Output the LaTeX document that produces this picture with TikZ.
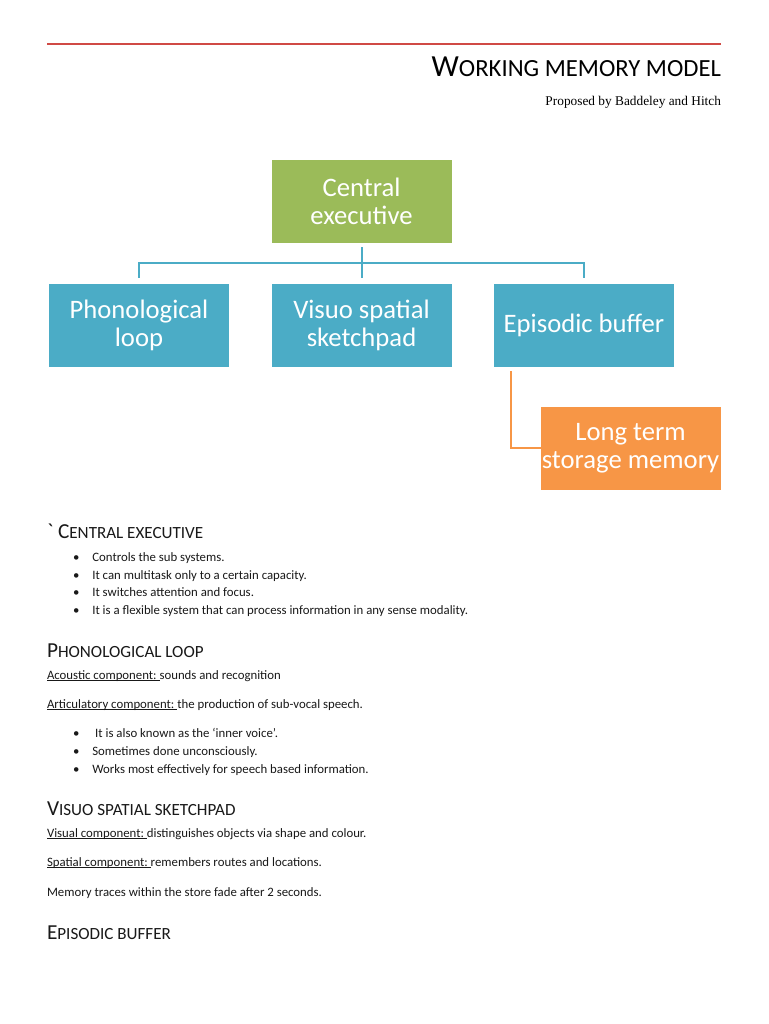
\documentclass[tikz,border=0pt]{standalone}
\usepackage{fontspec}
\setmainfont{Carlito}
\newfontfamily\subfont{Liberation Serif}
\usetikzlibrary{positioning}

\definecolor{ceGreen}{HTML}{9BBB59}
\definecolor{boxBlue}{HTML}{4BACC6}
\definecolor{ltOrange}{HTML}{F79646}
\definecolor{ruleRed}{HTML}{D04A45}

% fake small caps: big first letter, smaller rest
\newcommand{\ttlsc}[2]{{\fontsize{23}{23}\selectfont #1}{\fontsize{18.5}{18.5}\selectfont #2}}
\newcommand{\hdsc}[2]{{\fontsize{16}{16}\selectfont #1}{\fontsize{12.8}{12.8}\selectfont #2}}
\newcommand{\ulabel}[1]{\setbox0\hbox{#1}\rlap{\rule[-1.6pt]{\wd0}{0.55pt}}\box0}
\newcommand{\bul}{\makebox[14.5pt][l]{\textbullet}}

\begin{document}
\begin{tikzpicture}[x=0.75pt, y=-0.75pt,
    every node/.style={inner sep=0pt, outer sep=0pt},
    box/.style={minimum width=135pt, minimum height=62.25pt, text=white, align=center, font=\fontsize{20}{21}\selectfont},
    body/.style={anchor=base west, text=black!90, font=\fontsize{9.6}{11}\selectfont},
    head/.style={anchor=base west, text=black!90},
    tree/.style={draw=boxBlue, line width=1.5pt},
    ltline/.style={draw=ltOrange, line width=1.5pt}]

    \path[fill=white, use as bounding box] (0,0) rectangle (768,1024);

    % title
    \coordinate (rl) at (47,44);
    \coordinate (rr) at (721,44);
    \draw[ruleRed, line width=1.5pt] (rl) -- (rr);
    \node[anchor=base east] (title) at (721,76) {\ttlsc{W}{ORKING MEMORY MODEL}};
    \node[anchor=base east, font=\subfont\fontsize{10}{12}\selectfont] (sub) at (721,105) {Proposed by Baddeley and Hitch};

    % diagram
    \node[box, fill=ceGreen] (ce) at (361.5,201.5) {Central\\executive};

    \node[box, fill=boxBlue] (pl) at (139,325) {Phonological\\loop};
    \node[box, fill=boxBlue] (vs) at (361.5,325) {Visuo spatial\\sketchpad};
    \node[box, fill=boxBlue] (eb) at (584,325) {Episodic buffer};

    \node[box, fill=ltOrange] (lt) at (630.5,448) {Long term\\storage memory};

    \coordinate (hub) at (361.5,263);
    \coordinate (ebtap) at (511,371);

    \draw[tree, shorten <=3pt] (ce) to (hub);
    \draw[tree, shorten >=4pt] (hub) -| (pl.north);
    \draw[tree, shorten >=4pt] (hub) to (vs.north);
    \draw[tree, shorten >=4pt] (hub) -| (eb.north);
    \draw[ltline] (ebtap) |- (lt.west);

    % central executive
    \node[head] (h1) at (47,538) {\hdsc{\textasciigrave\ C}{ENTRAL EXECUTIVE}};
    \node[body] (c1) at (73,561) {\bul Controls the sub systems.};
    \node[body] (c2) at (73,579) {\bul It can multitask only to a certain capacity.};
    \node[body] (c3) at (73,596) {\bul It switches attention and focus.};
    \node[body] (c4) at (73,614) {\bul It is a flexible system that can process information in any sense modality.};

    % phonological loop
    \node[head] (h2) at (47,657) {\hdsc{P}{HONOLOGICAL LOOP}};
    \node[body] (p1) at (47,679) {\ulabel{Acoustic component:\ }sounds and recognition};
    \node[body] (p2) at (47,708) {\ulabel{Articulatory component:\ }the production of sub-vocal speech.};
    \node[body] (p3) at (73,737) {\bul\ It is also known as the ‘inner voice’.};
    \node[body] (p4) at (73,755) {\bul Sometimes done unconsciously.};
    \node[body] (p5) at (73,773) {\bul Works most effectively for speech based information.};

    % visuo spatial sketchpad
    \node[head] (h3) at (47,815) {\hdsc{V}{ISUO SPATIAL SKETCHPAD}};
    \node[body] (v1) at (47,837) {\ulabel{Visual component:\ }distinguishes objects via shape and colour.};
    \node[body] (v2) at (47,866) {\ulabel{Spatial component:\ }remembers routes and locations.};
    \node[body] (v3) at (47,896) {Memory traces within the store fade after 2 seconds.};

    % episodic buffer
    \node[head] (h4) at (47,939) {\hdsc{E}{PISODIC BUFFER}};
\end{tikzpicture}
\end{document}
